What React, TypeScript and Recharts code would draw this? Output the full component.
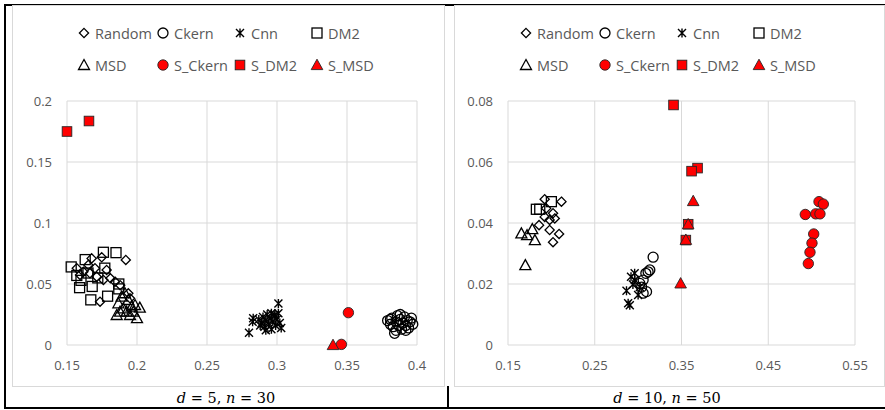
import React from 'react'
import {
  ScatterChart,
  Scatter,
  XAxis,
  YAxis,
  CartesianGrid,
} from 'recharts'

type Pt = [number, number]

// d = 5, n = 30
const leftRandom: Pt[] = [
  [0.192, 0.0697], [0.1736, 0.0355], [0.1676, 0.071], [0.1748, 0.0719], [0.157, 0.0629],
  [0.1617, 0.06], [0.1652, 0.0656], [0.1712, 0.056], [0.176, 0.0533], [0.181, 0.0547],
  [0.1843, 0.0519], [0.188, 0.049], [0.1938, 0.0424], [0.195, 0.0383], [0.1664, 0.0588],
  [0.17, 0.0629], [0.1593, 0.0574], [0.1783, 0.0615],
]
const leftCkern: Pt[] = [
  [0.379, 0.02], [0.381, 0.017], [0.382, 0.022], [0.383, 0.015], [0.384, 0.0096],
  [0.385, 0.019], [0.386, 0.024], [0.387, 0.016], [0.388, 0.021], [0.389, 0.013],
  [0.39, 0.018], [0.391, 0.023], [0.392, 0.016], [0.393, 0.02], [0.394, 0.014],
  [0.395, 0.019], [0.396, 0.022], [0.397, 0.017], [0.385, 0.012], [0.381, 0.021],
  [0.388, 0.025], [0.392, 0.012],
]
const leftCnn: Pt[] = [
  [0.301, 0.034], [0.28, 0.01], [0.2826, 0.019], [0.283, 0.022], [0.287, 0.021],
  [0.289, 0.018], [0.29, 0.023], [0.291, 0.015], [0.292, 0.02], [0.293, 0.025],
  [0.294, 0.017], [0.295, 0.022], [0.296, 0.013], [0.297, 0.019], [0.298, 0.024],
  [0.299, 0.016], [0.3, 0.021], [0.301, 0.026], [0.302, 0.018], [0.303, 0.014],
  [0.288, 0.016], [0.292, 0.012], [0.296, 0.026], [0.2986, 0.0246],
]
const leftDM2: Pt[] = [
  [0.153, 0.064], [0.163, 0.07], [0.176, 0.076], [0.185, 0.0757], [0.177, 0.063],
  [0.159, 0.047], [0.168, 0.048], [0.167, 0.037], [0.179, 0.04], [0.187, 0.046],
  [0.157, 0.057], [0.165, 0.059], [0.187, 0.05], [0.172, 0.055], [0.16, 0.053],
]
const leftMSD: Pt[] = [
  [0.1855, 0.0246], [0.2, 0.022], [0.202, 0.0306], [0.1867, 0.0342], [0.1902, 0.03],
  [0.1926, 0.0273], [0.1962, 0.0314], [0.1974, 0.0273], [0.1938, 0.0369], [0.189, 0.0396],
  [0.1914, 0.0424], [0.1986, 0.0328], [0.195, 0.0246], [0.1879, 0.0273],
]
const leftSCkern: Pt[] = [[0.351, 0.0265], [0.346, 0.0005]]
const leftSDM2: Pt[] = [[0.15, 0.175], [0.1657, 0.1836]]
const leftSMSD: Pt[] = [[0.34, 0]]

// d = 10, n = 50
const rightRandom: Pt[] = [
  [0.2116, 0.047], [0.1923, 0.0478], [0.2019, 0.0432], [0.198, 0.041], [0.1858, 0.0393],
  [0.198, 0.0377], [0.2089, 0.0364], [0.2019, 0.0337], [0.1923, 0.042], [0.2039, 0.0415],
  [0.194, 0.0448],
]
const rightCkern: Pt[] = [
  [0.3173, 0.0288], [0.3115, 0.024], [0.3089, 0.0235], [0.3058, 0.0213], [0.304, 0.019],
  [0.3097, 0.0175], [0.3058, 0.017], [0.302, 0.0202], [0.3135, 0.0246],
]
const rightCnn: Pt[] = [
  [0.2866, 0.0178], [0.2885, 0.0137], [0.2904, 0.013], [0.2918, 0.0224], [0.296, 0.0235],
  [0.2962, 0.0213], [0.302, 0.019], [0.3, 0.0164], [0.294, 0.0198],
]
const rightDM2: Pt[] = [[0.1827, 0.0445], [0.2, 0.047], [0.1866, 0.0445]]
const rightMSD: Pt[] = [
  [0.1654, 0.0366], [0.172, 0.036], [0.178, 0.038], [0.181, 0.0344], [0.17, 0.0262],
]
const rightSCkern: Pt[] = [
  [0.5085, 0.047], [0.5135, 0.0462], [0.4927, 0.0428], [0.5047, 0.043], [0.5096, 0.043],
  [0.5024, 0.0364], [0.5004, 0.0334], [0.4981, 0.0304], [0.4962, 0.0267],
]
const rightSDM2: Pt[] = [
  [0.3408, 0.0787], [0.3685, 0.058], [0.3616, 0.057], [0.3577, 0.0396], [0.355, 0.0344],
]
const rightSMSD: Pt[] = [
  [0.3635, 0.0472], [0.3577, 0.0396], [0.355, 0.0345], [0.349, 0.0202],
]

const leftXTicks = [0.15, 0.2, 0.25, 0.3, 0.35, 0.4]
const leftYTicks = [0, 0.05, 0.1, 0.15, 0.2]
const rightXTicks = [0.15, 0.25, 0.35, 0.45, 0.55]
const rightYTicks = [0, 0.02, 0.04, 0.06, 0.08]

const seriesNames = ['Random', 'Ckern', 'Cnn', 'DM2', 'MSD', 'S_Ckern', 'S_DM2', 'S_MSD']

type Kind = 'diamond' | 'circle' | 'star' | 'square' | 'triangle'
  | 'redCircle' | 'redSquare' | 'redTriangle'

const kinds: Kind[] = [
  'diamond', 'circle', 'star', 'square', 'triangle', 'redCircle', 'redSquare', 'redTriangle',
]

const INK = '#000'
const RED = '#ff0000'
const EDGE = '#262626'

function marker(kind: Kind, cx: number, cy: number) {
  switch (kind) {
    case 'diamond':
      return (
        <path
          d={`M${cx},${cy - 4.6}L${cx + 4.6},${cy}L${cx},${cy + 4.6}L${cx - 4.6},${cy}Z`}
          fill="none" stroke={INK} strokeWidth={1.3}
        />
      )
    case 'circle':
      return <circle cx={cx} cy={cy} r={5} fill="none" stroke={INK} strokeWidth={1.3} />
    case 'star':
      return (
        <path
          d={`M${cx - 4},${cy - 4}L${cx + 4},${cy + 4}M${cx + 4},${cy - 4}L${cx - 4},${cy + 4}M${cx},${cy - 4.5}L${cx},${cy + 4.5}`}
          fill="none" stroke={INK} strokeWidth={1.4}
        />
      )
    case 'square':
      return <rect x={cx - 5} y={cy - 5} width={10} height={10} fill="none" stroke={INK} strokeWidth={1.3} />
    case 'triangle':
      return (
        <path
          d={`M${cx},${cy - 5.5}L${cx + 5.5},${cy + 4.5}L${cx - 5.5},${cy + 4.5}Z`}
          fill="none" stroke={INK} strokeWidth={1.3}
        />
      )
    case 'redCircle':
      return <circle cx={cx} cy={cy} r={5.2} fill={RED} stroke={EDGE} strokeWidth={0.9} />
    case 'redSquare':
      return <rect x={cx - 4.8} y={cy - 4.8} width={9.6} height={9.6} fill={RED} stroke={EDGE} strokeWidth={0.9} />
    case 'redTriangle':
      return (
        <path
          d={`M${cx},${cy - 5.8}L${cx + 5.8},${cy + 4.6}L${cx - 5.8},${cy + 4.6}Z`}
          fill={RED} stroke={EDGE} strokeWidth={0.9}
        />
      )
  }
}

const FONT = '"Open Sans", sans-serif'
const legendCols = [71, 150, 227, 304]
const legendRows = [27, 59]

function LegendBlock() {
  return (
    <>
      {seriesNames.map((name, i) => (
        <div
          key={name}
          style={{
            position: 'absolute',
            left: legendCols[i % 4] - 6,
            top: legendRows[Math.floor(i / 4)] - 10,
            height: 20,
            display: 'flex',
            alignItems: 'center',
            fontFamily: FONT,
            fontSize: 14.5,
            color: '#595959',
            whiteSpace: 'nowrap',
          }}
        >
          <svg width={12} height={14} style={{ overflow: 'visible' }}>
            {marker(kinds[i], 6, 7)}
          </svg>
          <span style={{ marginLeft: 5 }}>{name}</span>
        </div>
      ))}
    </>
  )
}

interface PanelProps {
  left: number
  width: number
  series: Pt[][]
  xTicks: number[]
  yTicks: number[]
  marginRight: number
  yAxisWidth: number
}

function Panel({ left, width, series, xTicks, yTicks, marginRight, yAxisWidth }: PanelProps) {
  const tick = { fontFamily: FONT, fontSize: 13, fill: '#595959' }
  return (
    <div
      style={{
        position: 'absolute',
        left,
        top: 5,
        width,
        height: 382,
        boxSizing: 'border-box',
        border: '1px solid #d9d9d9',
        background: '#fff',
      }}
    >
      <ScatterChart
        width={width - 2}
        height={380}
        margin={{ top: 95, right: marginRight, bottom: 0, left: 0 }}
      >
        <CartesianGrid stroke="#d9d9d9" strokeWidth={1} />
        <XAxis
          type="number"
          dataKey="x"
          domain={[xTicks[0], xTicks[xTicks.length - 1]]}
          ticks={xTicks}
          interval={0}
          axisLine={false}
          tickLine={false}
          tickSize={0}
          tickMargin={16}
          height={41}
          tick={tick}
        />
        <YAxis
          type="number"
          dataKey="y"
          domain={[yTicks[0], yTicks[yTicks.length - 1]]}
          ticks={yTicks}
          interval={0}
          axisLine={false}
          tickLine={false}
          tickSize={0}
          tickMargin={15}
          width={yAxisWidth}
          tick={tick}
        />
        {series.map((pts, i) => (
          <Scatter
            key={seriesNames[i]}
            name={seriesNames[i]}
            data={pts.map(([x, y]) => ({ x, y }))}
            isAnimationActive={false}
            shape={(p: any) => marker(kinds[i], p.cx, p.cy)}
          />
        ))}
      </ScatterChart>
      <LegendBlock />
    </div>
  )
}

function Caption({ left, width, d, n }: { left: number; width: number; d: number; n: number }) {
  return (
    <div
      style={{
        position: 'absolute',
        left,
        top: 389,
        width,
        textAlign: 'center',
        fontFamily: '"DejaVu Serif", serif',
        fontSize: 14.5,
        lineHeight: '18px',
        color: '#000',
      }}
    >
      <i>d</i> = {d}, <i>n</i> = {n}
    </div>
  )
}

export default function App() {
  return (
    <div
      style={{
        position: 'absolute',
        left: 0,
        top: 0,
        width: 885,
        height: 410,
        overflow: 'hidden',
        background: '#fff',
      }}
    >
      <div
        style={{
          position: 'absolute',
          left: 4,
          top: 4,
          width: 900,
          height: 401,
          borderLeft: '2px solid #000',
          borderTop: '2px solid #000',
          borderBottom: '2px solid #000',
        }}
      />
      <div style={{ position: 'absolute', left: 447, top: 386, width: 2, height: 22, background: '#000' }} />
      <Panel
        left={12}
        width={433}
        series={[leftRandom, leftCkern, leftCnn, leftDM2, leftMSD, leftSCkern, leftSDM2, leftSMSD]}
        xTicks={leftXTicks}
        yTicks={leftYTicks}
        marginRight={27}
        yAxisWidth={54}
      />
      <Panel
        left={454}
        width={431}
        series={[rightRandom, rightCkern, rightCnn, rightDM2, rightMSD, rightSCkern, rightSDM2, rightSMSD]}
        xTicks={rightXTicks}
        yTicks={rightYTicks}
        marginRight={29}
        yAxisWidth={53}
      />
      <Caption left={5} width={442} d={5} n={30} />
      <Caption left={449} width={436} d={10} n={50} />
    </div>
  )
}
